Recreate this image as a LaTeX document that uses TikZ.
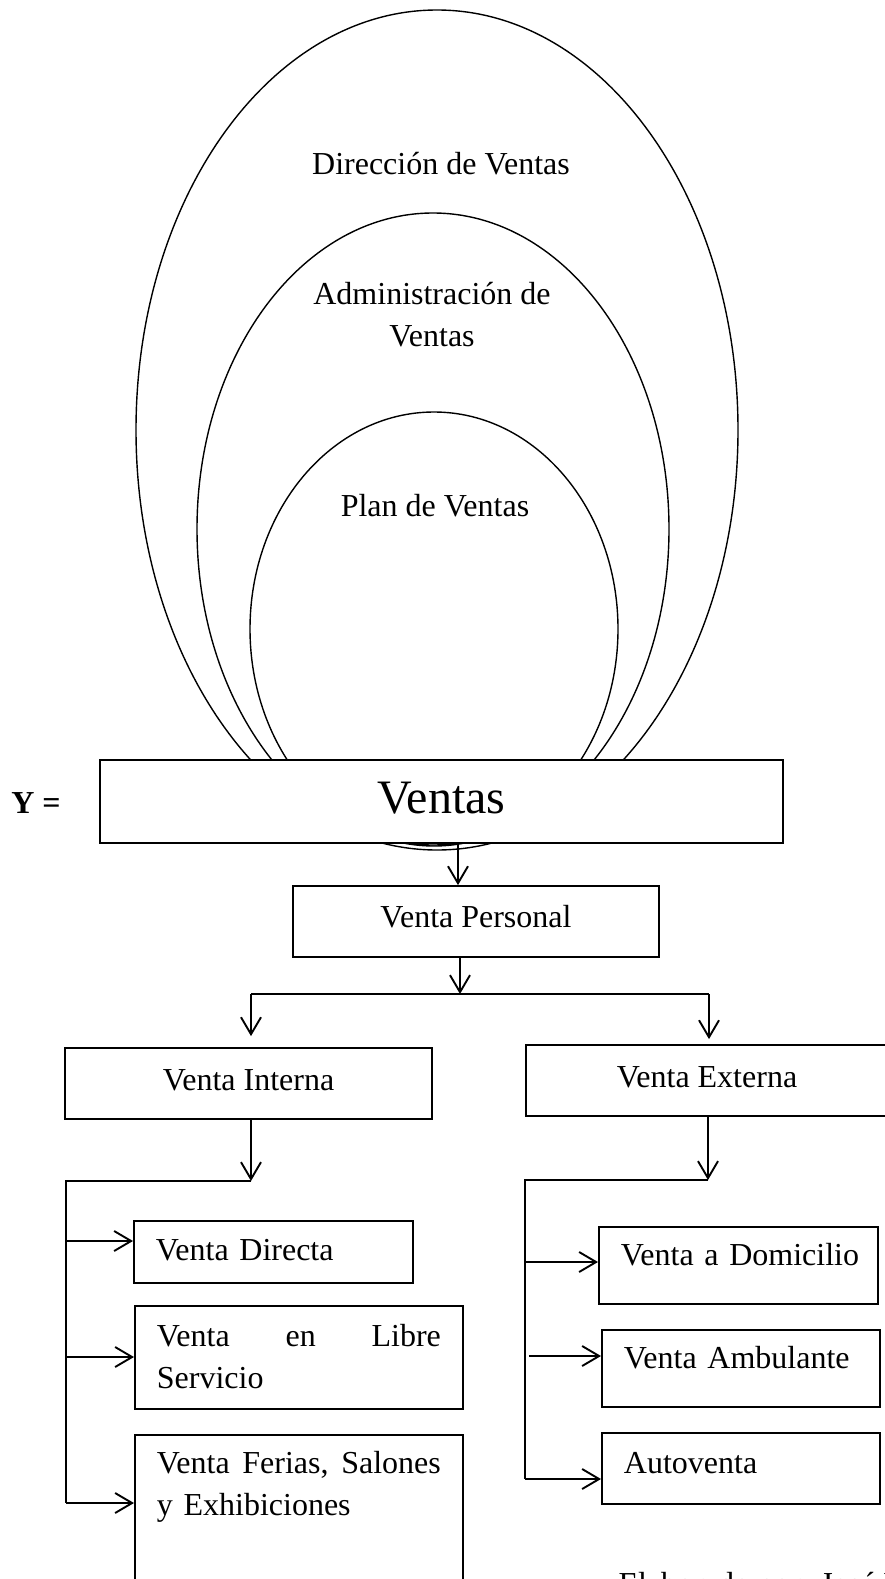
\documentclass[tikz,border=0pt]{standalone}
\usepackage{fontspec}
\setmainfont{Liberation Serif}
\usetikzlibrary{arrows.meta,positioning}

\begin{document}
\begin{tikzpicture}[x=1pt,y=-1pt,>={Straight Barb[length=17pt,width=20pt]},
  ring/.style={line width=1.4pt},
  box/.style={draw,line width=1.8pt,fill=white,font=\fontsize{32}{42}\selectfont,text height=22pt},
  leaf/.style={box,anchor=north west,inner xsep=22pt,inner ysep=0pt,align=left},
  lbl/.style={font=\fontsize{32}{42}\selectfont,anchor=base,align=center},
  wire/.style={line width=1.9pt}]
  \useasboundingbox (0,0) rectangle (885,1579);

  % nested ovals
  \draw[ring] (437,430) ellipse [x radius=301pt,y radius=420pt];
  \draw[ring] (433,529) ellipse [x radius=236pt,y radius=316pt];
  \draw[ring] (434,629) ellipse [x radius=184pt,y radius=217pt];
  \node[lbl] (tdir) at (441,174) {Dirección de Ventas};
  \node[lbl] (tadm) at (432,346) {Administración de\\Ventas};
  \node[lbl] (tplan) at (435,516) {Plan de Ventas};

  \node[font=\bfseries\fontsize{32}{42}\selectfont,anchor=base] (yeq) at (36,813) {Y =};
  \node[box,minimum width=683pt,minimum height=83pt,font=\fontsize{48}{58}\selectfont,
    text height=32pt,text depth=9pt] (ventas) at (441.5,801.5) {Ventas};
  \node[box,minimum width=366pt,minimum height=71pt,text depth=11pt] (vpers) at (476,921.5) {Venta Personal};
  \node[box,minimum width=367pt,minimum height=71pt,text depth=9pt] (vint) at (248.5,1083.5) {Venta Interna};
  \node[box,minimum width=362pt,minimum height=71pt,text depth=9pt] (vext) at (707,1080.5) {Venta Externa};

  % left branch
  \node[leaf,text width=235pt,minimum height=62pt,text depth=4pt] (vdir) at (133,1220) {\mbox{Venta Directa}};
  \node[leaf,text width=284pt,minimum height=103pt,text depth=44pt] (vlib) at (134,1305)
    {Venta \hfill en \hfill Libre\\Servicio};
  \node[leaf,text width=284pt,minimum height=180pt,text depth=124pt] (vfer) at (134,1434)
    {Venta \hfill Ferias, \hfill Salones\\y Exhibiciones};

  % right branch
  \node[leaf,text width=235pt,minimum height=77pt,text depth=21pt] (vdom) at (598,1226) {\mbox{Venta a Domicilio}};
  \node[leaf,text width=234pt,minimum height=77pt,text depth=21pt] (vamb) at (601,1329) {\mbox{Venta Ambulante}};
  \node[leaf,text width=234pt,minimum height=71pt,text depth=11pt] (vauto) at (601,1432) {\mbox{Autoventa}};

  \node[font=\fontsize{32}{42}\selectfont,anchor=base west] (src) at (615,1594) {Elaborado por: José M};

  \coordinate (a0) at (458,843);
  \coordinate (j1) at (460,994);
  \coordinate (jl) at (251,994);
  \coordinate (jr) at (709,994);
  \coordinate (bl) at (251,1181);
  \coordinate (rl) at (66,1181);
  \coordinate (l1) at (66,1241);
  \coordinate (l2) at (66,1357);
  \coordinate (l3) at (66,1503);
  \coordinate (br) at (708,1180);
  \coordinate (rr) at (525,1180);
  \coordinate (r1) at (525,1262);
  \coordinate (r2) at (529,1356);
  \coordinate (r3) at (525,1479);

  \draw[wire,->] (a0) -- (a0 |- vpers.north);
  \draw[wire,->] (vpers.south -| j1) -- (j1);
  \draw[wire] (jl) -- (jr);
  \draw[wire,->,shorten >=11pt] (jl) -- (jl |- vint.north);
  \draw[wire,->,shorten >=5pt] (jr) -- (jr |- vext.north);

  \draw[wire,->] (vint.south -| bl) -- (bl);
  \draw[wire] (bl) -- (rl) -- (l3);
  \foreach \p/\t in {l1/vdir,l2/vlib,l3/vfer}
    \draw[wire,->] (\p) -- (\p -| \t.west);

  \draw[wire,->] (vext.south -| br) -- (br);
  \draw[wire] (br) -- (rr) -- (r3);
  \foreach \p/\t in {r1/vdom,r2/vamb,r3/vauto}
    \draw[wire,->] (\p) -- (\p -| \t.west);
\end{tikzpicture}
\end{document}
